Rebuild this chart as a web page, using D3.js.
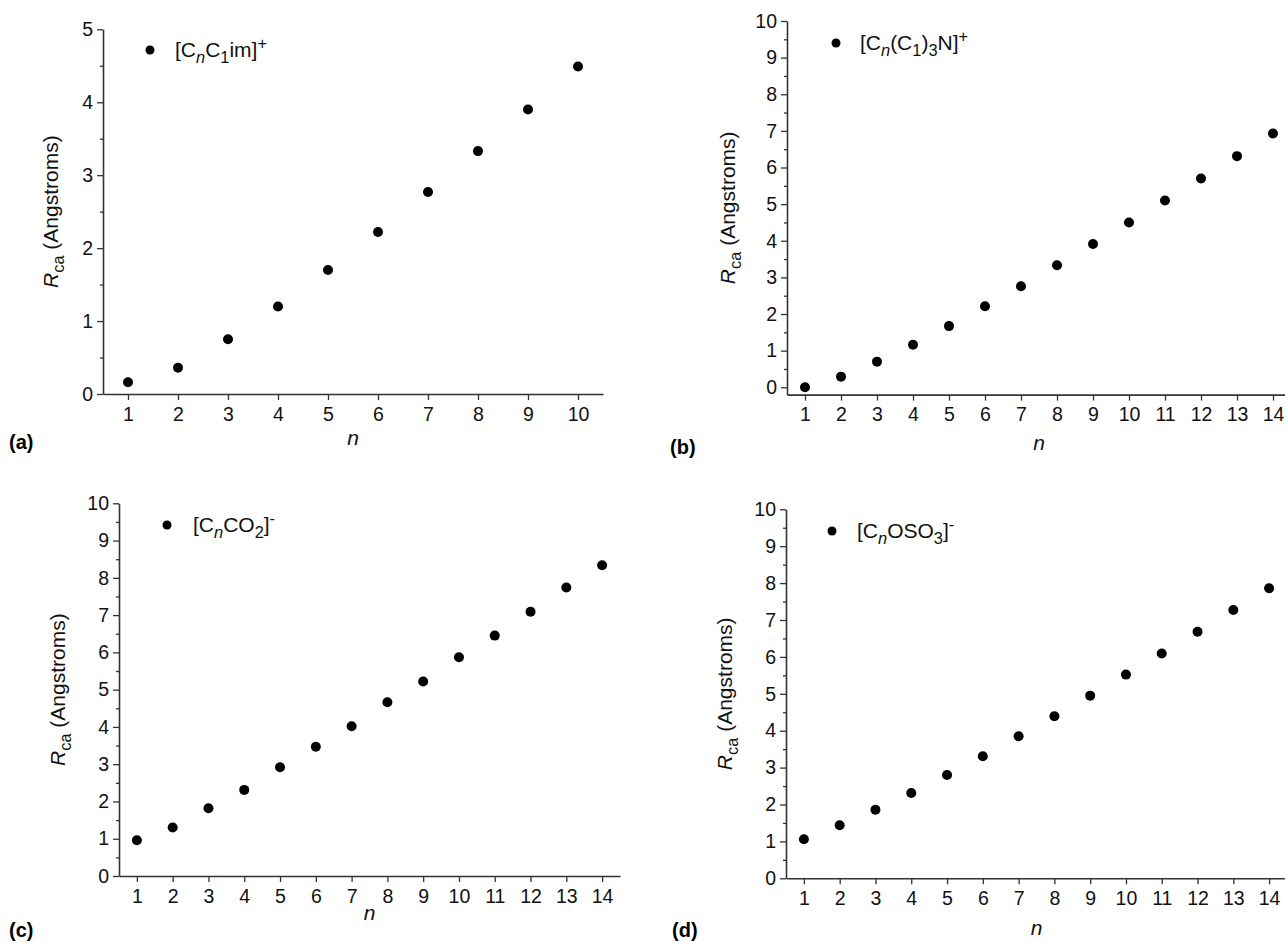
<!DOCTYPE html>
<html>
<head>
<meta charset="utf-8">
<script src="https://cdn.jsdelivr.net/npm/d3@7"></script>
<style>
  html, body { margin: 0; padding: 0; background: #fff; }
  svg { display: block; font-family: "Liberation Sans", Arial, sans-serif; }
  text { white-space: pre; }
</style>
</head>
<body>
<svg id="fig" width="1285" height="943"></svg>
<script>
// Chain length n and the cation/anion radius R_ca (Å) for four ion families
const nShort = [1, 2, 3, 4, 5, 6, 7, 8, 9, 10];
const nLong = [1, 2, 3, 4, 5, 6, 7, 8, 9, 10, 11, 12, 13, 14];

const rcaImidazolium = [0.16, 0.36, 0.75, 1.20, 1.70, 2.22, 2.77, 3.33, 3.90, 4.49];
const rcaAmmonium = [0.00, 0.29, 0.70, 1.16, 1.67, 2.21, 2.76, 3.33, 3.91, 4.50, 5.10, 5.70, 6.31, 6.93];
const rcaCarboxylate = [0.96, 1.30, 1.82, 2.31, 2.92, 3.47, 4.02, 4.66, 5.22, 5.87, 6.45, 7.09, 7.74, 8.34];
const rcaSulfate = [1.06, 1.44, 1.86, 2.31, 2.80, 3.31, 3.85, 4.39, 4.95, 5.52, 6.09, 6.68, 7.27, 7.86];

// Tick labels
const yTicksTo5 = [0, 1, 2, 3, 4, 5];
const yTicksTo10 = [0, 1, 2, 3, 4, 5, 6, 7, 8, 9, 10];
const yMinorTo5 = [0.5, 1.5, 2.5, 3.5, 4.5];
const yMinorTo10 = [0.5, 1.5, 2.5, 3.5, 4.5, 5.5, 6.5, 7.5, 8.5, 9.5];

// Legend labels, split into plain / subscript / superscript runs
const legendImidazolium = [{t: "[C"}, {t: "n", sub: 1, it: 1}, {t: "C"}, {t: "1", sub: 1}, {t: "im]"}, {t: "+", sup: 1}];
const legendAmmonium = [{t: "[C"}, {t: "n", sub: 1, it: 1}, {t: "(C"}, {t: "1", sub: 1}, {t: ")"}, {t: "3", sub: 1}, {t: "N]"}, {t: "+", sup: 1}];
const legendCarboxylate = [{t: "[C"}, {t: "n", sub: 1, it: 1}, {t: "CO"}, {t: "2", sub: 1}, {t: "]"}, {t: "-", sup: 1}];
const legendSulfate = [{t: "[C"}, {t: "n", sub: 1, it: 1}, {t: "OSO"}, {t: "3", sub: 1}, {t: "]"}, {t: "-", sup: 1}];

const yTitle = [{t: "R", it: 1}, {t: "ca", sub: 1}, {t: " (Angstroms)"}];

// Panel geometry
const panels = [
  {tag: "(a)", n: nShort, r: rcaImidazolium, legend: legendImidazolium,
   xDom: [0.5, 10.5], yDom: [0, 5], yTicks: yTicksTo5, yMinor: yMinorTo5,
   x0: 103, x1: 603, yTop: 29.3, yBot: 394,
   leg: [150, 50, 175], titleGap: 45, nY: 445, tagPos: [9, 449]},
  {tag: "(b)", n: nLong, r: rcaAmmonium, legend: legendAmmonium,
   xDom: [0.5, 14.5], yDom: [-0.2, 10], yTicks: yTicksTo10, yMinor: yMinorTo10,
   x0: 787, x1: 1291, yTop: 21, yBot: 394.6,
   leg: [836, 43, 860], titleGap: 52, nY: 450, tagPos: [670, 454]},
  {tag: "(c)", n: nLong, r: rcaCarboxylate, legend: legendCarboxylate,
   xDom: [0.5, 14.5], yDom: [0, 10], yTicks: yTicksTo10, yMinor: yMinorTo10,
   x0: 119, x1: 620, yTop: 503.3, yBot: 876,
   leg: [167, 525, 193], titleGap: 54, nY: 920, tagPos: [9, 937]},
  {tag: "(d)", n: nLong, r: rcaSulfate, legend: legendSulfate,
   xDom: [0.5, 14.5], yDom: [0, 10], yTicks: yTicksTo10, yMinor: yMinorTo10,
   x0: 786, x1: 1287, yTop: 509.3, yBot: 878.3,
   leg: [832, 531, 857], titleGap: 54, nY: 935, tagPos: [672, 937]}
];

const svg = d3.select("#fig");
const AXIS = "#333";
const TICK_FONT = 19.5;
const LABEL_FONT = 21;

function richText(sel, segs, size) {
  let shift = 0;
  segs.forEach(s => {
    const target = s.sub ? 0.28 * size : s.sup ? -0.4 * size : 0;
    const ts = sel.append("tspan").attr("dy", target - shift).text(s.t);
    shift = target;
    if (s.sub || s.sup) ts.attr("font-size", (size * 0.78).toFixed(1));
    if (s.it) ts.attr("font-style", "italic");
  });
}

panels.forEach(p => {
  const x = d3.scaleLinear().domain(p.xDom).range([p.x0, p.x1]);
  const y = d3.scaleLinear().domain(p.yDom).range([p.yBot, p.yTop]);
  const g = svg.append("g");

  // y axis: major ticks with labels, minor half-unit ticks
  g.append("g").attr("transform", `translate(${p.x0},0)`)
    .call(d3.axisLeft(y).tickValues(p.yTicks).tickFormat(d3.format("d"))
      .tickSize(6).tickPadding(4).tickSizeOuter(0));
  g.append("g").attr("transform", `translate(${p.x0},0)`)
    .call(d3.axisLeft(y).tickValues(p.yMinor).tickSize(3).tickFormat("").tickSizeOuter(0))
    .select(".domain").remove();

  // x axis
  g.append("g").attr("transform", `translate(0,${p.yBot})`)
    .call(d3.axisBottom(x).tickValues(p.n).tickFormat(d3.format("d"))
      .tickSize(6).tickPadding(7).tickSizeOuter(0));

  g.selectAll(".domain").attr("stroke", AXIS).attr("stroke-width", 1.6);
  g.selectAll(".tick line").attr("stroke", AXIS).attr("stroke-width", 1.3);
  g.selectAll(".tick text").attr("fill", "#111").attr("font-size", TICK_FONT)
    .attr("font-family", "Liberation Sans, Arial, sans-serif");

  // data points
  g.append("g").selectAll("circle")
    .data(p.n.map((n, i) => ({n, r: p.r[i]})))
    .join("circle")
    .attr("cx", d => x(d.n))
    .attr("cy", d => y(d.r))
    .attr("r", 5)
    .attr("fill", "#000");

  // legend
  g.append("circle").attr("cx", p.leg[0]).attr("cy", p.leg[1]).attr("r", 4.5).attr("fill", "#000");
  const lt = g.append("text").attr("x", p.leg[2]).attr("y", p.leg[1] + 7)
    .attr("font-size", LABEL_FONT).attr("fill", "#111");
  richText(lt, p.legend, LABEL_FONT);

  // axis titles
  const yt = g.append("text")
    .attr("transform", `translate(${p.x0 - p.titleGap},${(p.yTop + p.yBot) / 2}) rotate(-90)`)
    .attr("text-anchor", "middle").attr("font-size", LABEL_FONT).attr("fill", "#111");
  richText(yt, yTitle, LABEL_FONT);

  g.append("text").attr("x", (p.x0 + p.x1) / 2).attr("y", p.nY)
    .attr("text-anchor", "middle").attr("font-size", LABEL_FONT).attr("font-style", "italic")
    .attr("fill", "#111").text("n");

  // panel tag
  g.append("text").attr("x", p.tagPos[0]).attr("y", p.tagPos[1])
    .attr("font-size", 20).attr("font-weight", "bold").attr("fill", "#000").text(p.tag);
});
</script>
</body>
</html>
